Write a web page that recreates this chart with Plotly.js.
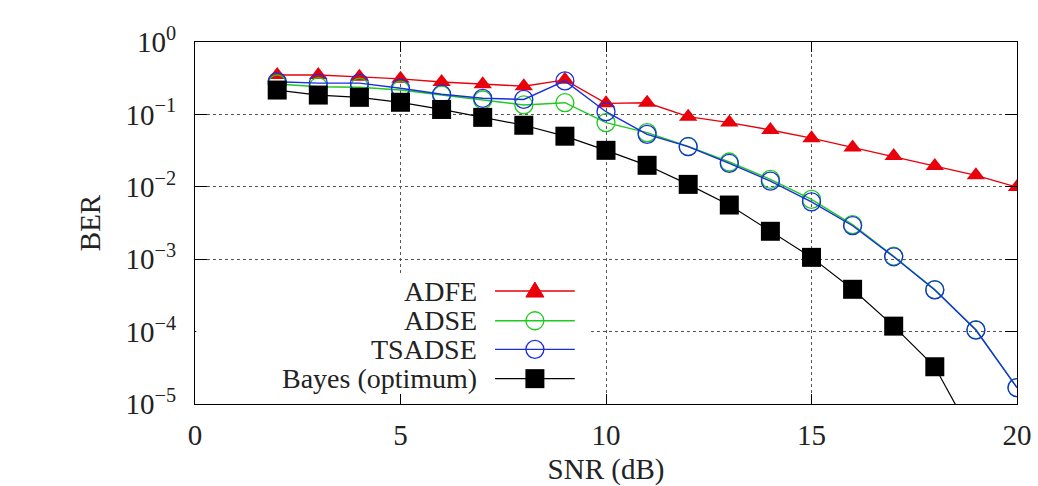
<!DOCTYPE html>
<html>
<head>
<meta charset="utf-8">
<script src="https://cdn.plot.ly/plotly-3.0.1.min.js"></script>
<style>html,body{margin:0;padding:0;background:#fff}#chart{width:1038px;height:486px}</style>
</head>
<body>
<div id="chart"></div>
<script>
const snr = [2,3,4,5,6,7,8,9,10,11,12,13,14,15,16,17,18,19,20];
const adfe   = [0.35,0.35,0.33,0.31,0.28,0.26,0.245,0.30,0.142,0.145,0.093,0.077,0.061,0.047,0.035,0.0266,0.0194,0.0144,0.0099];
const adse   = [0.263,0.241,0.237,0.217,0.185,0.158,0.135,0.145,0.077,0.056,0.036,0.022,0.0127,0.0067,0.0030,0.00110,0.00038,0.000106,0.0000168];
const tsadse = [0.283,0.27,0.27,0.23,0.19,0.167,0.161,0.29,0.109,0.053,0.0358,0.021,0.012,0.0062,0.0029,0.00108,0.000376,0.000105,0.0000168];
const bayesX = [2,3,4,5,6,7,8,9,10,11,12,13,14,15,16,17,18,19];
const bayes  = [0.217,0.185,0.172,0.147,0.117,0.091,0.0708,0.050,0.0319,0.0198,0.0108,0.0056,0.00243,0.00106,0.000384,0.000119,0.0000327,0.0000030];
const seriesNames = ['ADFE','ADSE','TSADSE','Bayes (optimum)'];
const yTickVals = [1,0.1,0.01,0.001,0.0001,0.00001];
const yTickText = ['10<sup>0</sup>','10<sup>\u22121</sup>','10<sup>\u22122</sup>','10<sup>\u22123</sup>','10<sup>\u22124</sup>','10<sup>\u22125</sup>'];
const xTickVals = [0,5,10,15,20];

const RED='#e8000b', GREEN='#1ccc1c', BLUE='#1a2ee0', BLACK='#000000';
const colors=[RED,GREEN,BLUE,BLACK];
const FAM='Liberation Serif';
function F(s){return {family:FAM,size:s||29,color:'#222'};}

const traces=[
 {x:snr,y:adfe,mode:'lines+markers',line:{color:RED,width:1.4},marker:{symbol:'triangle-up',size:16,color:RED}},
 {x:snr,y:adse,mode:'lines+markers',line:{color:GREEN,width:1.4},marker:{symbol:'circle-open',size:18,color:GREEN,line:{width:1.3}}},
 {x:snr,y:tsadse,mode:'lines+markers',line:{color:BLUE,width:1.4},marker:{symbol:'circle-open',size:18,color:BLUE,line:{width:1.3}}},
 {x:bayesX,y:bayes,mode:'lines+markers',line:{color:BLACK,width:1.2},marker:{symbol:'square',size:19,color:BLACK}}
];

// hand-drawn key (gnuplot style: text on the left of the sample)
const legY=[0.312,0.230,0.151,0.070];
const lx0=0.365, lxm=0.4135, lx1=0.462;
const annotations=[], shapes=[];
shapes.push({type:'rect',xref:'paper',yref:'paper',x0:0.0015,x1:0.48,y0:0.028,y1:0.355,fillcolor:'#fff',line:{width:0},layer:'above'});
for(let i=0;i<4;i++){
  const c=colors[i], y=legY[i];
  shapes.push({type:'line',xref:'paper',yref:'paper',x0:lx0,x1:lx1,y0:y,y1:y,line:{color:c,width:1.4},layer:'above'});
  const base={xref:'paper',yref:'paper',xsizemode:'pixel',ysizemode:'pixel',xanchor:lxm,yanchor:y,layer:'above'};
  if(i===0) shapes.push(Object.assign({type:'path',path:'M -9,-6 L 9,-6 L 0,9 Z',fillcolor:c,line:{color:c,width:1}},base));
  else if(i<3) shapes.push(Object.assign({type:'circle',x0:-9,x1:9,y0:-9,y1:9,fillcolor:'rgba(0,0,0,0)',line:{color:c,width:1.3}},base));
  else shapes.push(Object.assign({type:'rect',x0:-9.5,x1:9.5,y0:-9.5,y1:9.5,fillcolor:c,line:{width:0}},base));
  annotations.push({xref:'paper',yref:'paper',x:0.344,y:y,xanchor:'right',yanchor:'middle',text:seriesNames[i],showarrow:false,borderpad:0,font:F(28)});
}
const layout={
  width:1038,height:486,margin:{l:195,r:21,t:42,b:82},
  paper_bgcolor:'#fff',plot_bgcolor:'#fff',showlegend:false,font:F(29),
  xaxis:{range:[0,20],tickvals:xTickVals,ticks:'inside',ticklen:10,tickcolor:'#000',mirror:'ticks',showline:true,linecolor:'#000',linewidth:1,
    showgrid:true,gridcolor:'#555',griddash:'dot',gridwidth:1,zeroline:false,tickfont:F(29),ticklabelstandoff:5,
    title:{text:'SNR (dB)',font:F(29),standoff:11}},
  yaxis:{type:'log',range:[-5,0],tickvals:yTickVals,ticktext:yTickText,ticks:'inside',ticklen:12,tickcolor:'#000',mirror:'ticks',showline:true,linecolor:'#000',linewidth:1,
    showgrid:true,gridcolor:'#555',griddash:'dot',gridwidth:1,zeroline:false,tickfont:F(29),ticklabelstandoff:12,
    title:{text:'BER',font:F(29),standoff:16}},
  shapes:shapes,
  annotations:annotations
};
Plotly.newPlot('chart',traces,layout,{displayModeBar:false});
</script>
</body>
</html>
